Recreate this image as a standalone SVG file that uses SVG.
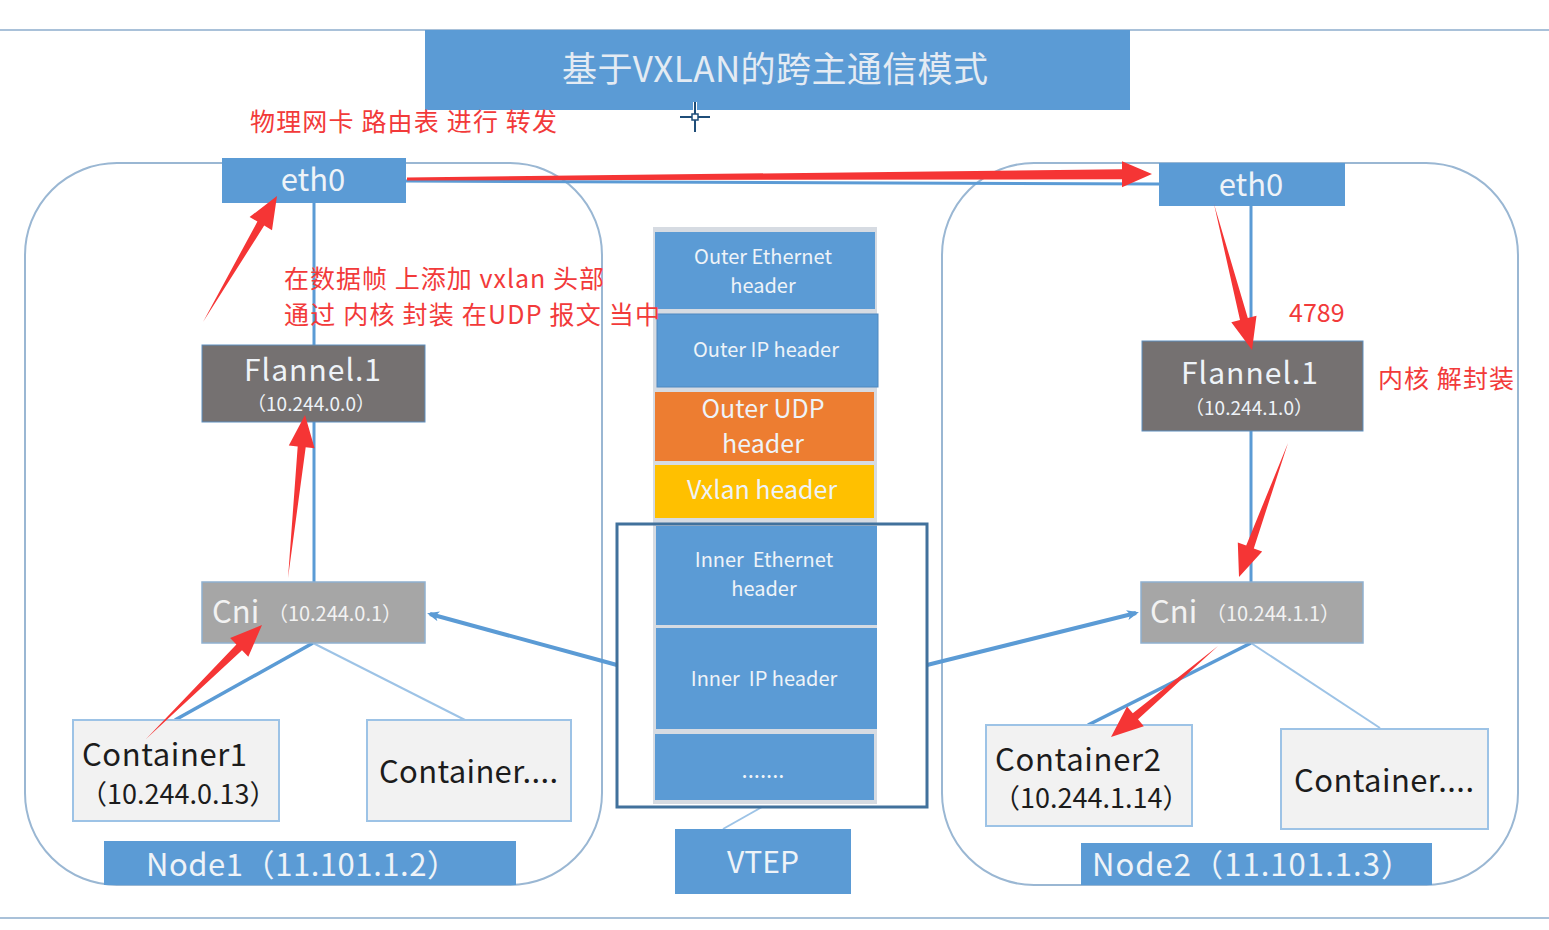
<svg xmlns="http://www.w3.org/2000/svg" width="1549" height="930" viewBox="0 0 1549 930">
<defs>
<style>
.cjk{font-family:"Noto Sans CJK SC","Noto Sans",sans-serif;}
.red{fill:#f23a3a;font-size:25px;}
.wt{fill:#eef3f8;}
.blue{fill:#5b9bd5;}
.node{fill:none;stroke:#9ab7d3;stroke-width:2;}
.cont{fill:#f2f2f2;stroke:#9dc3e6;stroke-width:2;}
.dark{fill:#1c1c1c;}
.ra{fill:#f53535;}
.ln{stroke:#5b9bd5;fill:none;}
</style>
<marker id="bh" markerWidth="12" markerHeight="10" refX="9" refY="5" orient="auto" markerUnits="userSpaceOnUse">
<path d="M0,0 L12,5 L0,10 L3,5 Z" fill="#5b9bd5"/>
</marker>
</defs>
<rect width="1549" height="930" fill="#ffffff"/>
<line x1="0" y1="30" x2="1549" y2="30" stroke="#a9c1d9" stroke-width="2"/>
<line x1="0" y1="918" x2="1549" y2="918" stroke="#a9c1d9" stroke-width="2"/>

<g id="title">
<rect x="425" y="30" width="705" height="80" class="blue"/>
<text x="562" y="82" class="cjk" fill="#e4ebf3" font-size="35" textLength="426">基于VXLAN的跨主通信模式</text>
</g>

<g id="cursor" stroke-linecap="butt">
<g stroke="#ffffff" stroke-width="4"><line x1="680" y1="117" x2="710" y2="117"/><line x1="695" y1="102" x2="695" y2="132"/></g>
<g stroke="#1f4e79" stroke-width="2"><line x1="680" y1="117" x2="710" y2="117"/><line x1="695" y1="102" x2="695" y2="132"/></g>
<rect x="692" y="114" width="6" height="6" fill="#ffffff" stroke="#1f4e79" stroke-width="1.5"/>
</g>

<g id="node1">
<rect x="25" y="163" width="577" height="722" rx="92" ry="92" class="node"/>
</g>
<g id="node2">
<rect x="942" y="163" width="576" height="722" rx="92" ry="92" class="node"/>
</g>

<g id="connectors">
<line x1="405" y1="181" x2="1159" y2="184" class="ln" stroke-width="3"/>
<line x1="314" y1="203" x2="314" y2="582" class="ln" stroke-width="3"/>
<line x1="1251" y1="206" x2="1251" y2="582" class="ln" stroke-width="3"/>
<line x1="313" y1="643" x2="175" y2="720" class="ln" stroke-width="3.5"/>
<line x1="313" y1="643" x2="465" y2="720" stroke="#9dc3e6" stroke-width="2"/>
<line x1="1251" y1="643" x2="1088" y2="725" class="ln" stroke-width="3.5"/>
<line x1="1251" y1="643" x2="1380" y2="728" stroke="#9dc3e6" stroke-width="2"/>
<line x1="617" y1="665" x2="430" y2="614" class="ln" stroke-width="4" marker-end="url(#bh)"/>
<line x1="927" y1="665" x2="1136" y2="613" class="ln" stroke-width="4" marker-end="url(#bh)"/>
<line x1="762" y1="807" x2="723" y2="829" stroke="#9dc3e6" stroke-width="2"/>
</g>

<g id="eth0-left">
<rect x="222" y="158" width="184" height="45" class="blue"/>
<text x="313" y="191" text-anchor="middle" class="cjk wt" font-size="31">eth0</text>
</g>
<g id="eth0-right">
<rect x="1159" y="163" width="186" height="43" class="blue"/>
<text x="1251" y="196" text-anchor="middle" class="cjk wt" font-size="31">eth0</text>
</g>

<g id="flannel-left">
<rect x="202" y="345" width="223" height="77" fill="#757171" stroke="#5f8fbf" stroke-width="1"/>
<text x="244" y="381" class="cjk wt" font-size="30" textLength="137">Flannel.1</text>
<text x="247" y="411" class="cjk wt" font-size="19" textLength="128">（10.244.0.0）</text>
</g>
<g id="flannel-right">
<rect x="1142" y="341" width="221" height="90" fill="#757171" stroke="#5f8fbf" stroke-width="1"/>
<text x="1181" y="384" class="cjk wt" font-size="30" textLength="137">Flannel.1</text>
<text x="1185" y="415" class="cjk wt" font-size="19" textLength="128">（10.244.1.0）</text>
</g>

<g id="cni-left">
<rect x="202" y="582" width="223" height="61" fill="#a6a6a6" stroke="#8fb0cf" stroke-width="1.5"/>
<text x="212" y="623" class="cjk" fill="#f2f2f2" font-size="31">Cni</text>
<text x="268" y="621" class="cjk" fill="#f2f2f2" font-size="20" textLength="134">（10.244.0.1）</text>
</g>
<g id="cni-right">
<rect x="1141" y="582" width="222" height="61" fill="#a6a6a6" stroke="#8fb0cf" stroke-width="1.5"/>
<text x="1150" y="623" class="cjk" fill="#f2f2f2" font-size="31">Cni</text>
<text x="1206" y="621" class="cjk" fill="#f2f2f2" font-size="20" textLength="134">（10.244.1.1）</text>
</g>

<g id="container1">
<rect x="73" y="720" width="206" height="101" class="cont"/>
<text x="82" y="766" class="cjk dark" font-size="31" textLength="165">Container1</text>
<text x="80" y="804" class="cjk dark" font-size="27">（10.244.0.13）</text>
</g>
<g id="container-left-more">
<rect x="367" y="720" width="204" height="101" class="cont"/>
<text x="379" y="783" class="cjk dark" font-size="31" textLength="179">Container....</text>
</g>
<g id="container2">
<rect x="986" y="725" width="206" height="101" class="cont"/>
<text x="995" y="771" class="cjk dark" font-size="31" textLength="166">Container2</text>
<text x="993" y="808" class="cjk dark" font-size="27">（10.244.1.14）</text>
</g>
<g id="container-right-more">
<rect x="1281" y="729" width="207" height="100" class="cont"/>
<text x="1294" y="792" class="cjk dark" font-size="31" textLength="180">Container....</text>
</g>

<g id="node1-label">
<rect x="104" y="841" width="412" height="44" class="blue"/>
<text x="146" y="876" class="cjk wt" font-size="31" textLength="312">Node1（11.101.1.2）</text>
</g>
<g id="node2-label">
<rect x="1081" y="843" width="351" height="42" class="blue"/>
<text x="1092" y="876" class="cjk wt" font-size="31" textLength="320">Node2（11.101.1.3）</text>
</g>

<g id="packet">
<rect x="653" y="227" width="224" height="577" fill="#d6dbe2"/>
<rect x="655" y="232" width="220" height="77" class="blue"/>
<text x="763" y="264" text-anchor="middle" class="cjk wt" font-size="20">Outer Ethernet</text>
<text x="763" y="293" text-anchor="middle" class="cjk wt" font-size="20">header</text>
<rect x="657" y="314" width="221" height="73" class="blue" stroke="#4f88bf" stroke-width="1"/>
<text x="766" y="357" text-anchor="middle" class="cjk wt" font-size="20">Outer IP header</text>
<rect x="655" y="392" width="219" height="69" fill="#ed7d31"/>
<text x="763" y="418" text-anchor="middle" class="cjk wt" font-size="25">Outer UDP</text>
<text x="763" y="453" text-anchor="middle" class="cjk wt" font-size="25">header</text>
<rect x="655" y="465" width="219" height="53" fill="#ffc000"/>
<text x="762" y="499" text-anchor="middle" class="cjk wt" font-size="25">Vxlan header</text>
<rect x="656" y="526" width="221" height="99" class="blue"/>
<text x="764" y="567" text-anchor="middle" class="cjk wt" font-size="20" xml:space="preserve">Inner  Ethernet</text>
<text x="764" y="596" text-anchor="middle" class="cjk wt" font-size="20">header</text>
<rect x="656" y="628" width="221" height="101" class="blue"/>
<text x="764" y="686" text-anchor="middle" class="cjk wt" font-size="20" xml:space="preserve">Inner  IP header</text>
<rect x="655" y="734" width="219" height="66" class="blue"/>
<text x="763" y="778" text-anchor="middle" class="cjk wt" font-size="22">.......</text>
</g>
<g id="vtep-frame">
<rect x="617" y="524" width="310" height="283" fill="none" stroke="#41719c" stroke-width="3"/>
</g>
<g id="vtep">
<rect x="675" y="829" width="176" height="65" class="blue"/>
<text x="763" y="873" text-anchor="middle" class="cjk wt" font-size="30">VTEP</text>
</g>

<g id="red-arrows">
<polygon class="ra" points="203,322 264.2,225.6 272,230.2 277,196 249.6,217 257.4,221.6"/>
<polygon class="ra" points="288,578 305.7,447.2 314.6,448.2 305,415 288.8,445.5 297.7,446.4"/>
<polygon class="ra" points="146,739 242,650.3 248.3,656.7 262,625 230.1,638.1 236.4,644.6"/>
<polygon class="ra" points="407,177.5 1122,169.2 1122,161.2 1152,174 1122,187.2 1122,179.2 407,180.5"/>
<polygon class="ra" points="1214,204 1240,320 1231.3,322.3 1252,350 1256.5,315.7 1247.8,318"/>
<polygon class="ra" points="1288,443 1246.2,545.6 1237.8,542.5 1239,577 1262.2,551.5 1253.8,548.4"/>
<polygon class="ra" points="1218,646 1132.8,713.3 1127,706.4 1111,737 1143.8,726.2 1138,719.3"/>
</g>

<g id="annotations">
<text x="250" y="131" class="cjk red" textLength="307" xml:space="preserve">物理网卡 路由表 进行 转发</text>
<text x="284" y="288" class="cjk red" textLength="320" xml:space="preserve">在数据帧 上添加 vxlan 头部</text>
<text x="284" y="324" class="cjk red" textLength="376" xml:space="preserve">通过 内核 封装 在UDP 报文 当中</text>
<text x="1289" y="322" class="cjk red" font-size="26">4789</text>
<text x="1378" y="388" class="cjk red" textLength="136" xml:space="preserve">内核 解封装</text>
</g>
</svg>
